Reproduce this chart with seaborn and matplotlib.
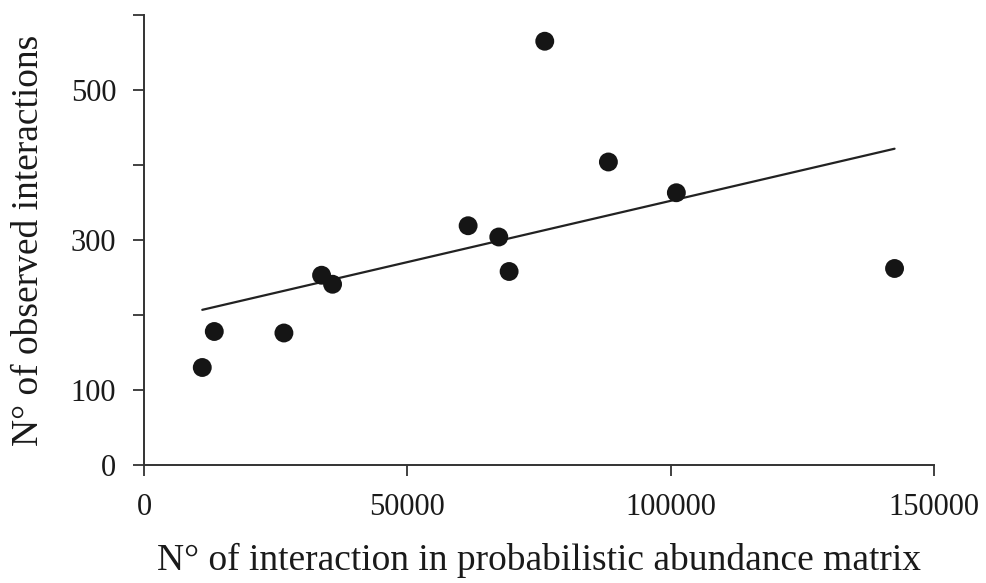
import numpy as np
import pandas as pd
import seaborn as sb
import matplotlib
matplotlib.use("Agg")
import matplotlib.pyplot as plt

# values
prob_interactions = [11064, 13345, 26566, 33717, 35804, 61543, 67365,
                     69326, 76094, 88177, 101080, 142510]
obs_interactions = [130, 178, 176, 253, 241, 319, 304,
                    258, 565, 404, 363, 262]

x_ticks = [0, 50000, 100000, 150000]
y_ticks = [0, 100, 200, 300, 400, 500, 600]
y_tick_labels = ["0", "100", "", "300", "", "500", ""]

df = pd.DataFrame({"x": prob_interactions, "y": obs_interactions})

sb.set_style("ticks")
plt.rcParams["font.family"] = ["Liberation Serif", "DejaVu Serif"]

fig = plt.figure(figsize=(9.87, 5.83), dpi=100)
ax = fig.add_axes([0.1459, 0.2024, 0.8004, 0.7719])

sb.regplot(x="x", y="y", data=df, ci=None, truncate=True, ax=ax,
           scatter_kws={"s": 185, "color": "#151515", "edgecolor": "none",
                        "alpha": 1, "zorder": 3},
           line_kws={"color": "#222222", "lw": 1.6, "zorder": 2})

ax.set_xlim(0, 150000)
ax.set_ylim(0, 600)
ax.set_xticks(x_ticks)
ax.set_xticklabels([str(t) for t in x_ticks])
ax.set_yticks(y_ticks)
ax.set_yticklabels(y_tick_labels)

sb.despine(ax=ax)
for side in ["left", "bottom"]:
    ax.spines[side].set_color("#333333")
    ax.spines[side].set_linewidth(1.4)

ax.tick_params(axis="both", direction="out", length=8, width=1.3,
               color="#333333", labelsize=22, labelcolor="#1a1a1a")
ax.tick_params(axis="x", pad=12)
ax.tick_params(axis="y", pad=12)

ax.set_xlabel("N° of interaction in probabilistic abundance matrix",
              fontsize=27, color="#1a1a1a", labelpad=15)
ax.set_ylabel("N° of observed interactions",
              fontsize=27, color="#1a1a1a", labelpad=18)

fig.savefig("out.png", dpi=100)
plt.close(fig)
